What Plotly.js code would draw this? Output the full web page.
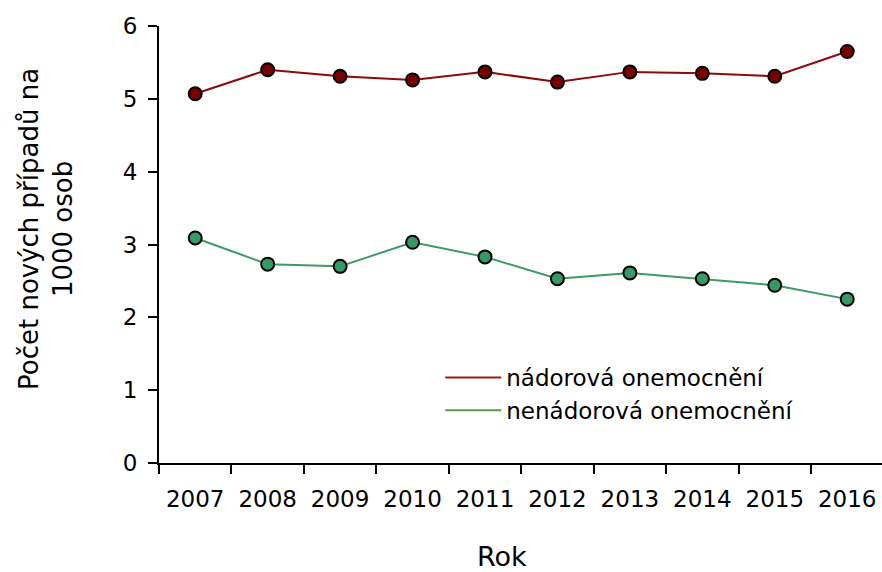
<!DOCTYPE html>
<html><head><meta charset="utf-8">
<script src="https://cdn.plot.ly/plotly-3.0.1.min.js"></script>
<style>html,body{margin:0;padding:0;background:#fff}</style>
</head><body><div id="chart" style="width:882px;height:572px"></div>
<script>
const years = ['2007','2008','2009','2010','2011','2012','2013','2014','2015','2016'];
const tumorCases = [5.07,5.40,5.31,5.26,5.37,5.23,5.37,5.35,5.31,5.65];
const nonTumorCases = [3.09,2.73,2.70,3.03,2.83,2.53,2.61,2.53,2.44,2.25];
const seriesNames = ['nádorová onemocnění','nenádorová onemocnění'];
const yTicks = [0,1,2,3,4,5,6];
const xTitle = 'Rok';
const yTitle = 'Počet nových případů na<br>1000 osob';

const FONT = 'DejaVu Sans, Arial, sans-serif';
const traces = [
  {x: years, y: tumorCases, type:'scatter', mode:'lines+markers', showlegend:false,
   line:{color:'#8b0a0a', width:2}, marker:{size:13, color:'#7a0000', line:{color:'#000', width:2}}},
  {x: years, y: nonTumorCases, type:'scatter', mode:'lines+markers', showlegend:false,
   line:{color:'#3a9a68', width:2}, marker:{size:13, color:'#349a66', line:{color:'#000', width:2}}},
  {x:[null], y:[null], type:'scatter', mode:'lines', name: seriesNames[0], line:{color:'#9b1a1a', width:2}},
  {x:[null], y:[null], type:'scatter', mode:'lines', name: seriesNames[1], line:{color:'#5b9b48', width:2}}
];
const layout = {
  width:882, height:572,
  margin:{l:159, r:0, t:26, b:109},
  paper_bgcolor:'#fff', plot_bgcolor:'#fff',
  font:{family:FONT, color:'#000', size:23},
  showlegend:true,
  legend:{x:0.389, y:0.245, xanchor:'left', yanchor:'top', font:{size:23, family:FONT}, bgcolor:'rgba(0,0,0,0)', itemwidth:56, tracegroupgap:0},
  xaxis:{type:'category', range:[-0.5, 9.48], tickson:'boundaries', ticks:'outside', ticklen:9, tickwidth:2, tickcolor:'#000',
    showline:true, linecolor:'#000', linewidth:2, showgrid:false, zeroline:false, ticklabelstandoff:14,
    tickfont:{size:23, family:FONT}},
  yaxis:{range:[0,6], tickvals:yTicks, ticks:'outside', ticklen:9, tickwidth:2, tickcolor:'#000',
    showline:true, linecolor:'#000', linewidth:2, showgrid:false, zeroline:false, ticklabelstandoff:6,
    tickfont:{size:23, family:FONT}},
  annotations:[
    {text:xTitle, xref:'paper', yref:'paper', x:(502-159)/723, y:-(556-463)/437, xanchor:'center', yanchor:'middle',
     showarrow:false, font:{size:27, family:FONT}},
    {text:yTitle, xref:'paper', yref:'paper', x:(46-159)/723, y:(463-229)/437, xanchor:'center', yanchor:'middle',
     textangle:-90, showarrow:false, font:{size:26, family:FONT}}
  ]
};
Plotly.newPlot('chart', traces, layout, {displayModeBar:false, staticPlot:true});
</script></body></html>
